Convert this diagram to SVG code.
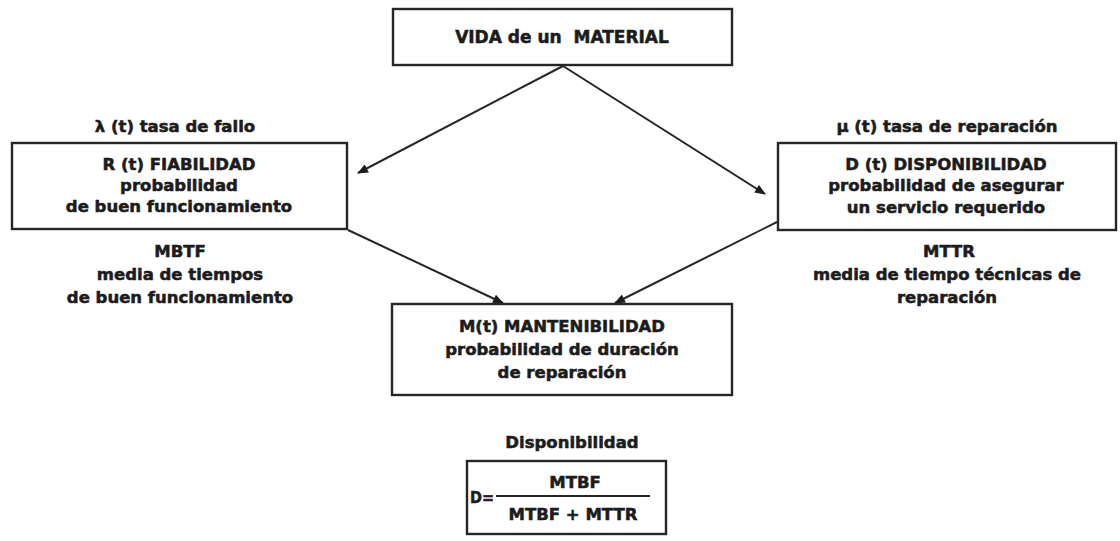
<svg xmlns="http://www.w3.org/2000/svg" width="1120" height="541" viewBox="0 0 1120 541">
  <style>
    .box { fill: #ffffff; stroke: #262626; stroke-width: 2.4; }
    .edge { fill: none; stroke: #262626; stroke-width: 2; marker-end: url(#head); }
    text { font-family: "DejaVu Sans", "Liberation Sans", sans-serif; font-weight: bold; font-size: 16.5px; fill: #1c1c1c; stroke: #1c1c1c; stroke-width: 0.55; text-anchor: middle; }
    .title { font-size: 17px; }
  </style>
  <defs>
    <marker id="head" viewBox="0 0 12 10" refX="11" refY="5" markerWidth="12" markerHeight="9" markerUnits="userSpaceOnUse" orient="auto">
      <path d="M0,0 L12,5 L0,10 Z" fill="#1c1c1c"/>
    </marker>
  </defs>
  <rect width="1120" height="541" fill="#ffffff"/>

  <!-- connectors -->
  <g id="connectors">
    <line class="edge" x1="563" y1="66" x2="358" y2="173"/>
    <line class="edge" x1="563" y1="66" x2="765" y2="194"/>
    <line class="edge" x1="348" y1="230" x2="503" y2="303"/>
    <line class="edge" x1="777" y1="222" x2="615" y2="303"/>
  </g>

  <!-- life of a material -->
  <g id="vida">
    <rect class="box" x="393" y="9" width="339" height="56"/>
    <text class="title" x="562" y="43" xml:space="preserve">VIDA de un  MATERIAL</text>
  </g>

  <!-- reliability -->
  <g id="fiabilidad">
    <text x="175" y="132">λ (t) tasa de fallo</text>
    <rect class="box" x="12" y="143" width="335" height="86"/>
    <text x="179" y="170">R (t) FIABILIDAD</text>
    <text x="179" y="191">probabilidad</text>
    <text x="179" y="212">de buen funcionamiento</text>
    <text x="180" y="257">MBTF</text>
    <text x="180" y="280">media de tiempos</text>
    <text x="180" y="303">de buen funcionamiento</text>
  </g>

  <!-- availability -->
  <g id="disponibilidad">
    <text x="947" y="132">μ (t) tasa de reparación</text>
    <rect class="box" x="778" y="143" width="338" height="87"/>
    <text x="946" y="170">D (t) DISPONIBILIDAD</text>
    <text x="946" y="191">probabilidad de asegurar</text>
    <text x="946" y="213">un servicio requerido</text>
    <text x="949" y="257">MTTR</text>
    <text x="947" y="280">media de tiempo técnicas de</text>
    <text x="947" y="303">reparación</text>
  </g>

  <!-- maintainability -->
  <g id="mantenibilidad">
    <rect class="box" x="392" y="304" width="340" height="91"/>
    <text x="562" y="332">M(t) MANTENIBILIDAD</text>
    <text x="562" y="355">probabilidad de duración</text>
    <text x="562" y="378">de reparación</text>
  </g>

  <!-- availability formula -->
  <g id="formula">
    <text x="572" y="448">Disponibilidad</text>
    <rect class="box" x="467" y="461" width="199" height="73"/>
    <text x="470" y="503" textLength="24" lengthAdjust="spacingAndGlyphs" style="text-anchor: start">D=</text>
    <line x1="496" y1="496" x2="650" y2="496" stroke="#262626" stroke-width="2"/>
    <text x="575" y="488">MTBF</text>
    <text x="573" y="520">MTBF + MTTR</text>
  </g>
</svg>
